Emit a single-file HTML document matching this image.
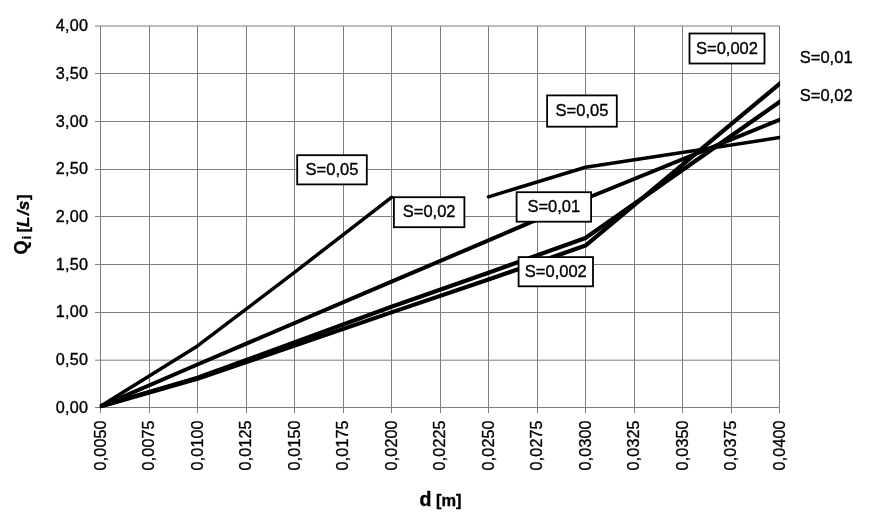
<!DOCTYPE html>
<html><head><meta charset="utf-8"><title>chart</title>
<style>html,body{margin:0;padding:0;background:#fff}svg{display:block;will-change:transform}text{font-family:"Liberation Sans",sans-serif;fill:#000;stroke:#000;stroke-width:0.35px}</style></head><body>
<svg width="883" height="525" viewBox="0 0 883 525">
<rect width="883" height="525" fill="#fff"/>
<path d="M100.50 26.00V413.20M149.50 26.00V413.20M197.50 26.00V413.20M246.50 26.00V413.20M294.50 26.00V413.20M343.50 26.00V413.20M391.50 26.00V413.20M440.50 26.00V413.20M488.50 26.00V413.20M537.50 26.00V413.20M585.50 26.00V413.20M634.50 26.00V413.20M682.50 26.00V413.20M731.50 26.00V413.20M779.50 26.00V413.20M95.00 26.00H779.50M95.00 73.50H779.50M95.00 121.50H779.50M95.00 169.50H779.50M95.00 216.50H779.50M95.00 264.50H779.50M95.00 312.50H779.50M95.00 360.20H779.50M95.00 407.50H779.50" stroke="#7e7e7e" stroke-width="1" fill="none"/>
<text x="88.2" y="412.80" font-size="16.2" letter-spacing="0.25" text-anchor="end">0,00</text>
<text x="88.2" y="365.09" font-size="16.2" letter-spacing="0.25" text-anchor="end">0,50</text>
<text x="88.2" y="317.38" font-size="16.2" letter-spacing="0.25" text-anchor="end">1,00</text>
<text x="88.2" y="269.66" font-size="16.2" letter-spacing="0.25" text-anchor="end">1,50</text>
<text x="88.2" y="221.95" font-size="16.2" letter-spacing="0.25" text-anchor="end">2,00</text>
<text x="88.2" y="174.24" font-size="16.2" letter-spacing="0.25" text-anchor="end">2,50</text>
<text x="88.2" y="126.53" font-size="16.2" letter-spacing="0.25" text-anchor="end">3,00</text>
<text x="88.2" y="78.81" font-size="16.2" letter-spacing="0.25" text-anchor="end">3,50</text>
<text x="88.2" y="31.10" font-size="16.2" letter-spacing="0.25" text-anchor="end">4,00</text>
<text transform="translate(105.80 420.3) rotate(-90)" font-size="16.1" letter-spacing="0.15" text-anchor="end">0,0050</text>
<text transform="translate(154.30 420.3) rotate(-90)" font-size="16.1" letter-spacing="0.15" text-anchor="end">0,0075</text>
<text transform="translate(202.80 420.3) rotate(-90)" font-size="16.1" letter-spacing="0.15" text-anchor="end">0,0100</text>
<text transform="translate(251.30 420.3) rotate(-90)" font-size="16.1" letter-spacing="0.15" text-anchor="end">0,0125</text>
<text transform="translate(299.80 420.3) rotate(-90)" font-size="16.1" letter-spacing="0.15" text-anchor="end">0,0150</text>
<text transform="translate(348.30 420.3) rotate(-90)" font-size="16.1" letter-spacing="0.15" text-anchor="end">0,0175</text>
<text transform="translate(396.80 420.3) rotate(-90)" font-size="16.1" letter-spacing="0.15" text-anchor="end">0,0200</text>
<text transform="translate(445.30 420.3) rotate(-90)" font-size="16.1" letter-spacing="0.15" text-anchor="end">0,0225</text>
<text transform="translate(493.80 420.3) rotate(-90)" font-size="16.1" letter-spacing="0.15" text-anchor="end">0,0250</text>
<text transform="translate(542.30 420.3) rotate(-90)" font-size="16.1" letter-spacing="0.15" text-anchor="end">0,0275</text>
<text transform="translate(590.80 420.3) rotate(-90)" font-size="16.1" letter-spacing="0.15" text-anchor="end">0,0300</text>
<text transform="translate(639.30 420.3) rotate(-90)" font-size="16.1" letter-spacing="0.15" text-anchor="end">0,0325</text>
<text transform="translate(687.80 420.3) rotate(-90)" font-size="16.1" letter-spacing="0.15" text-anchor="end">0,0350</text>
<text transform="translate(736.30 420.3) rotate(-90)" font-size="16.1" letter-spacing="0.15" text-anchor="end">0,0375</text>
<text transform="translate(784.80 420.3) rotate(-90)" font-size="16.1" letter-spacing="0.15" text-anchor="end">0,0400</text>
<clipPath id="pa"><rect x="99.90" y="26.00" width="680.20" height="382.20"/></clipPath>
<g clip-path="url(#pa)">
<polyline points="90.80,412.40 100.50,406.36 197.50,345.96 294.50,272.39 391.50,197.29" fill="none" stroke="#000" stroke-width="3.5" stroke-linejoin="round" stroke-linecap="round"/>
<polyline points="488.50,196.81 585.50,167.23 779.50,137.55 789.20,136.07" fill="none" stroke="#000" stroke-width="3.5" stroke-linejoin="round" stroke-linecap="round"/>
<polyline points="90.80,410.55 100.50,406.36 197.50,364.47 391.50,281.64 488.50,240.42 585.50,198.72 779.50,119.80 789.20,115.86" fill="none" stroke="#000" stroke-width="4.0" stroke-linejoin="round" stroke-linecap="round"/>
<polyline points="90.80,409.22 100.50,406.36 197.50,377.83 391.50,306.74 488.50,272.77 585.50,237.94 779.50,101.96 789.20,95.16" fill="none" stroke="#000" stroke-width="4.2" stroke-linejoin="round" stroke-linecap="round"/>
<polyline points="90.80,409.12 100.50,406.36 197.50,378.79 391.50,312.37 488.50,279.54 585.50,245.57 779.50,83.83 789.20,75.74" fill="none" stroke="#000" stroke-width="4.2" stroke-linejoin="round" stroke-linecap="round"/>
</g>
<rect x="297.2" y="155.2" width="69.6" height="29.2" fill="#fff" stroke="#000" stroke-width="1.8"/>
<text x="332.00" y="174.80" font-size="16.5" text-anchor="middle">S=0,05</text>
<rect x="393.9" y="197.2" width="70.5" height="30" fill="#fff" stroke="#000" stroke-width="1.8"/>
<text x="429.15" y="217.20" font-size="16.5" text-anchor="middle">S=0,02</text>
<rect x="547.1" y="95.4" width="69.7" height="31.3" fill="#fff" stroke="#000" stroke-width="1.8"/>
<text x="581.95" y="116.05" font-size="16.5" text-anchor="middle">S=0,05</text>
<rect x="516.6" y="192.2" width="74.5" height="29.5" fill="#fff" stroke="#000" stroke-width="1.8"/>
<text x="553.85" y="211.95" font-size="16.5" text-anchor="middle">S=0,01</text>
<rect x="518.6" y="257.1" width="74.4" height="29.2" fill="#fff" stroke="#000" stroke-width="1.8"/>
<text x="555.80" y="276.70" font-size="16.5" text-anchor="middle">S=0,002</text>
<rect x="689.5" y="33.5" width="75" height="30" fill="#fff" stroke="#000" stroke-width="1.8"/>
<text x="727.00" y="53.50" font-size="16.5" text-anchor="middle">S=0,002</text>
<text x="799.8" y="63.4" font-size="16.5">S=0,01</text>
<text x="799.8" y="100.8" font-size="16.5">S=0,02</text>
<text transform="translate(26.9 254.6) rotate(-90)" font-weight="bold" font-size="18">Q<tspan font-size="12.5" dy="4.5" dx="1.3">i</tspan><tspan dy="-2.3" dx="-1.3" font-size="16.4"> [<tspan font-style="italic" font-size="17.3">L<tspan dx="1.4">/s</tspan></tspan><tspan dx="0.7">]</tspan></tspan></text>
<text x="419.5" y="506.3" font-weight="bold" font-size="19.6">d<tspan font-size="16.4" dx="4.6">[m]</tspan></text>
</svg></body></html>
